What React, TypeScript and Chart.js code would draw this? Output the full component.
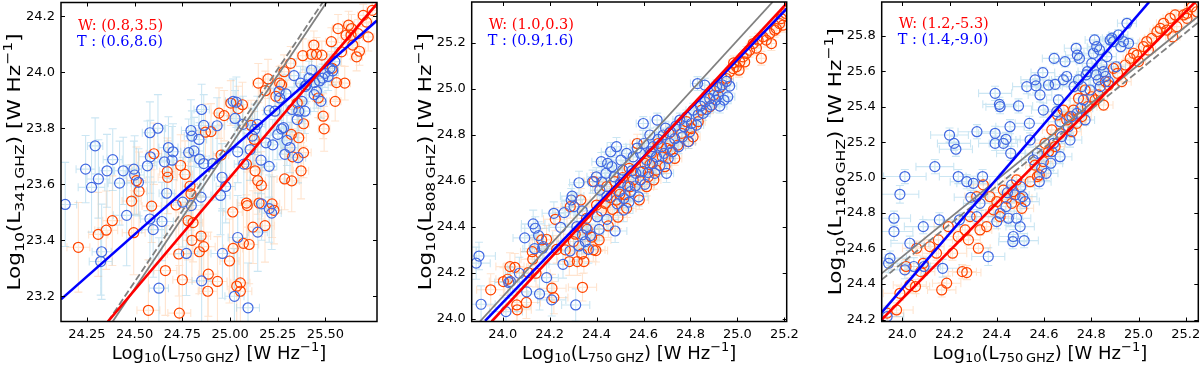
import React, { useEffect, useRef } from "react";
import { Chart, registerables } from "chart.js";
Chart.register(...registerables);

type Pt = [number, number, number, number]; // x, y, xerr, yerr

// ---------------- Panel 1 : 341 GHz vs 750 GHz ----------------
const P1_XRANGE = [24.114, 25.77];
const P1_YRANGE = [23.11, 24.249];
const P1_XTICKS = [24.25, 24.5, 24.75, 25.0, 25.25, 25.5];
const P1_YTICKS = [23.2, 23.4, 23.6, 23.8, 24.0, 24.2];
const P1_W_LABEL = "W: (0.8,3.5)";
const P1_T_LABEL = "T : (0.6,8.6)";
const P1_YFREQ = "341\u2009GHZ";
const P1_FIT_W = [[24.36, 23.11], [25.77, 24.245]];
const P1_FIT_T = [[24.114, 23.189], [25.77, 24.185]];
const P1_GRAY = [[24.385, 23.11], [25.505, 24.249]];
const P1_GRAY_DASH = [[24.36, 23.11], [25.485, 24.249]];
const P1_T: Pt[] = [
  [24.136,23.528,0.06,0.15],[24.243,23.654,0.05,0.12],[24.274,23.589,0.07,0.16],[24.293,23.737,0.04,0.10],
  [24.31,23.619,0.06,0.14],[24.327,23.359,0.05,0.17],[24.322,23.324,0.06,0.12],[24.355,23.648,0.04,0.13],
  [24.385,23.688,0.05,0.11],[24.421,23.604,0.06,0.15],[24.44,23.648,0.05,0.12],[24.458,23.489,0.07,0.18],
  [24.496,23.654,0.04,0.10],[24.5,23.633,0.05,0.14],[24.52,23.607,0.06,0.12],[24.567,23.666,0.05,0.16],
  [24.58,23.784,0.04,0.11],[24.582,23.698,0.06,0.13],[24.58,23.476,0.05,0.15],[24.597,23.438,0.06,0.17],
  [24.622,23.8,0.04,0.12],[24.627,23.229,0.05,0.18],[24.643,23.467,0.06,0.14],[24.656,23.68,0.05,0.13],
  [24.668,23.568,0.04,0.15],[24.677,23.731,0.05,0.11],[24.696,23.686,0.06,0.12],[24.701,23.716,0.04,0.10],
  [24.752,23.536,0.05,0.16],[24.771,23.353,0.06,0.15],[24.783,23.713,0.04,0.12],[24.795,23.792,0.05,0.11],
  [24.8,23.772,0.04,0.09],[24.797,23.524,0.06,0.14],[24.811,23.719,0.05,0.12],[24.837,23.76,0.04,0.10],
  [24.84,23.69,0.05,0.13],[24.848,23.554,0.06,0.15],[24.851,23.255,0.05,0.17],[24.851,23.867,0.04,0.09],
  [24.862,23.81,0.05,0.11],[24.862,23.674,0.04,0.12],[24.909,23.674,0.05,0.13],[24.932,23.809,0.04,0.10],
  [24.95,23.56,0.05,0.14],[24.958,23.625,0.04,0.12],[24.96,23.353,0.06,0.16],[24.977,23.592,0.05,0.13],
  [25.016,23.896,0.04,0.08],[25.023,23.2,0.05,0.17],[25.026,23.835,0.04,0.10],[25.033,23.893,0.03,0.09],
  [25.04,23.41,0.05,0.15],[25.04,23.716,0.04,0.11],[25.068,23.814,0.04,0.10],[25.072,23.672,0.05,0.12],
  [25.094,23.159,0.06,0.16],[25.105,23.724,0.04,0.11],[25.117,23.772,0.04,0.10],[25.13,23.796,0.03,0.09],
  [25.145,23.429,0.05,0.14],[25.143,23.814,0.04,0.10],[25.162,23.686,0.04,0.12],[25.165,23.53,0.05,0.13],
  [25.188,23.748,0.04,0.10],[25.205,23.863,0.03,0.08],[25.205,23.664,0.04,0.11],[25.218,23.497,0.05,0.13],
  [25.224,23.741,0.04,0.09],[25.235,23.861,0.03,0.08],[25.25,23.778,0.04,0.09],[25.257,23.932,0.03,0.07],
  [25.26,23.908,0.03,0.08],[25.27,23.798,0.04,0.09],[25.28,23.802,0.03,0.08],[25.287,23.707,0.04,0.10],
  [25.293,23.923,0.03,0.07],[25.298,23.757,0.04,0.09],[25.325,23.867,0.03,0.08],[25.335,23.988,0.03,0.06],
  [25.352,23.831,0.03,0.08],[25.36,23.861,0.03,0.07],[25.37,23.961,0.03,0.06],[25.377,23.896,0.03,0.07],
  [25.392,23.861,0.03,0.08],[25.393,23.949,0.03,0.06],[25.4,23.955,0.03,0.06],[25.414,23.979,0.03,0.06],
  [25.427,24.008,0.03,0.05],[25.442,23.963,0.03,0.06],[25.453,23.932,0.03,0.06],[25.469,23.969,0.03,0.05],
  [25.485,23.979,0.03,0.05],[25.497,23.996,0.03,0.05],[25.514,23.985,0.03,0.05],[25.523,24.014,0.03,0.05],
  [25.538,24.005,0.03,0.05],[25.549,24.038,0.03,0.05],[25.476,23.896,0.03,0.06],[25.441,23.92,0.03,0.06],
  [25.356,23.695,0.04,0.09],[25.314,23.731,0.04,0.09],[25.205,23.513,0.05,0.12],
];
const P1_W: Pt[] = [
  [24.205,23.375,0.06,0.16],[24.309,23.421,0.05,0.15],[24.351,23.436,0.06,0.14],[24.383,23.47,0.05,0.16],
  [24.484,23.54,0.05,0.13],[24.495,23.427,0.06,0.15],[24.509,23.613,0.05,0.12],[24.523,23.575,0.04,0.14],
  [24.572,23.15,0.06,0.18],[24.589,23.522,0.05,0.13],[24.601,23.709,0.04,0.11],[24.661,23.292,0.06,0.16],
  [24.671,23.645,0.04,0.12],[24.673,23.625,0.05,0.13],[24.717,23.526,0.05,0.14],[24.731,23.351,0.06,0.15],
  [24.734,23.14,0.06,0.17],[24.741,23.667,0.04,0.11],[24.75,23.259,0.05,0.16],[24.764,23.635,0.04,0.12],
  [24.78,23.47,0.05,0.14],[24.79,23.593,0.04,0.12],[24.795,23.566,0.05,0.13],[24.8,23.4,0.05,0.15],
  [24.806,23.463,0.05,0.14],[24.839,23.359,0.05,0.15],[24.848,23.415,0.05,0.14],[24.862,23.377,0.06,0.15],
  [24.871,23.786,0.04,0.10],[24.883,23.218,0.05,0.16],[24.886,23.279,0.05,0.15],[24.9,23.788,0.04,0.10],
  [24.934,23.253,0.05,0.16],[24.942,23.854,0.04,0.09],[24.953,23.704,0.04,0.11],[24.969,23.845,0.04,0.09],
  [24.997,23.326,0.05,0.15],[25.004,23.89,0.03,0.08],[25.014,23.501,0.05,0.13],[25.016,23.371,0.05,0.14],
  [25.035,23.236,0.05,0.16],[25.042,23.87,0.03,0.08],[25.054,23.248,0.05,0.15],[25.054,23.218,0.06,0.16],
  [25.065,23.884,0.03,0.08],[25.07,23.389,0.05,0.14],[25.086,23.533,0.05,0.13],[25.086,23.672,0.04,0.11],
  [25.09,23.524,0.05,0.12],[25.1,23.385,0.05,0.14],[25.11,23.81,0.04,0.09],[25.12,23.447,0.05,0.13],
  [25.127,23.76,0.04,0.10],[25.131,23.648,0.04,0.11],[25.145,23.613,0.04,0.12],[25.148,23.961,0.03,0.07],
  [25.152,23.533,0.05,0.12],[25.164,23.596,0.04,0.12],[25.183,23.452,0.05,0.13],[25.185,23.934,0.03,0.07],
  [25.199,23.976,0.03,0.07],[25.22,23.53,0.04,0.12],[25.23,23.507,0.04,0.12],[25.24,23.914,0.03,0.07],
  [25.26,23.961,0.03,0.06],[25.27,23.955,0.03,0.07],[25.283,24.002,0.03,0.06],[25.286,23.619,0.04,0.11],
  [25.318,24.032,0.03,0.06],[25.321,23.778,0.04,0.09],[25.323,23.612,0.04,0.11],[25.328,23.698,0.04,0.10],
  [25.352,23.89,0.03,0.07],[25.36,23.766,0.04,0.09],[25.372,23.648,0.04,0.10],[25.381,24.059,0.03,0.06],
  [25.385,23.713,0.04,0.09],[25.385,23.816,0.03,0.08],[25.427,24.064,0.03,0.05],[25.439,24.097,0.03,0.05],
  [25.453,24.064,0.03,0.06],[25.462,23.908,0.03,0.07],[25.481,24.061,0.03,0.05],[25.488,23.843,0.03,0.08],
  [25.493,23.798,0.03,0.08],[25.531,24.109,0.03,0.05],[25.535,24.014,0.03,0.06],[25.551,23.896,0.03,0.07],
  [25.558,23.963,0.03,0.06],[25.566,24.156,0.03,0.05],[25.584,24.073,0.03,0.05],[25.601,23.961,0.03,0.06],
  [25.608,24.132,0.03,0.05],[25.621,24.168,0.03,0.05],[25.636,24.156,0.03,0.05],[25.643,24.097,0.03,0.05],
  [25.663,24.055,0.03,0.05],[25.671,24.138,0.03,0.05],[25.698,24.203,0.03,0.04],[25.715,24.179,0.03,0.04],
  [25.724,24.126,0.03,0.05],[25.745,24.221,0.03,0.04],[25.678,24.075,0.03,0.05],[25.634,24.132,0.03,0.05],
];

// ---------------- Panel 2 : 808 GHz vs 750 GHz ----------------
const P2_XRANGE = [23.868, 25.21];
const P2_YRANGE = [23.987, 25.378];
const P2_XTICKS = [24.0, 24.2, 24.4, 24.6, 24.8, 25.0, 25.2];
const P2_YTICKS = [24.0, 24.2, 24.4, 24.6, 24.8, 25.0, 25.2];
const P2_W_LABEL = "W: (1.0,0.3)";
const P2_T_LABEL = "T : (0.9,1.6)";
const P2_YFREQ = "808\u2009GHZ";
const P2_FIT_W = [[23.953, 23.987], [25.21, 25.372]];
const P2_FIT_T = [[23.925, 23.99], [25.21, 25.349]];
const P2_GRAY = [[23.903, 23.987], [25.15, 25.378]];
const P2_GRAY_DASH: number[][] = [];
const P2_T: Pt[] = [
  [23.887,24.241,0.06,0.07],[23.899,24.272,0.07,0.06],[23.908,24.062,0.06,0.08],[24.014,24.03,0.07,0.06],
  [24.026,24.157,0.06,0.07],[24.033,24.161,0.05,0.06],[24.071,24.197,0.06,0.07],[24.094,24.351,0.05,0.06],
  [24.102,24.116,0.06,0.07],[24.13,24.412,0.05,0.06],[24.139,24.393,0.06,0.05],[24.136,24.304,0.05,0.06],
  [24.153,24.361,0.06,0.06],[24.157,24.107,0.05,0.07],[24.17,24.306,0.05,0.06],[24.173,24.313,0.06,0.05],
  [24.187,24.178,0.05,0.06],[24.209,24.081,0.06,0.07],[24.218,24.458,0.05,0.05],[24.247,24.397,0.05,0.06],
  [24.257,24.236,0.06,0.06],[24.262,24.461,0.05,0.05],[24.287,24.294,0.05,0.06],[24.292,24.516,0.04,0.05],
  [24.296,24.533,0.05,0.05],[24.304,24.487,0.05,0.06],[24.311,24.059,0.06,0.07],[24.316,24.4,0.05,0.05],
  [24.325,24.316,0.05,0.06],[24.325,24.591,0.04,0.05],[24.339,24.469,0.05,0.05],[24.34,24.364,0.05,0.06],
  [24.352,24.335,0.05,0.05],[24.355,24.394,0.04,0.05],[24.365,24.301,0.05,0.06],[24.374,24.361,0.05,0.05],
  [24.383,24.596,0.04,0.05],[24.399,24.617,0.04,0.04],[24.403,24.443,0.05,0.05],[24.411,24.388,0.05,0.05],
  [24.414,24.559,0.04,0.05],[24.42,24.683,0.04,0.04],[24.423,24.594,0.04,0.05],[24.44,24.632,0.04,0.04],
  [24.444,24.533,0.04,0.05],[24.444,24.432,0.05,0.05],[24.447,24.675,0.04,0.04],[24.46,24.726,0.04,0.04],
  [24.465,24.661,0.04,0.04],[24.475,24.617,0.04,0.05],[24.479,24.381,0.05,0.05],[24.485,24.748,0.04,0.04],
  [24.488,24.499,0.04,0.05],[24.496,24.552,0.04,0.04],[24.502,24.591,0.04,0.04],[24.504,24.69,0.04,0.04],
  [24.511,24.646,0.04,0.04],[24.515,24.472,0.04,0.05],[24.516,24.523,0.04,0.04],[24.528,24.719,0.03,0.04],
  [24.533,24.577,0.04,0.04],[24.538,24.507,0.04,0.05],[24.545,24.552,0.04,0.04],[24.55,24.643,0.03,0.04],
  [24.556,24.704,0.03,0.04],[24.565,24.577,0.04,0.04],[24.567,24.632,0.03,0.04],[24.573,24.742,0.03,0.04],
  [24.579,24.53,0.04,0.04],[24.587,24.603,0.03,0.04],[24.587,24.719,0.03,0.04],[24.596,24.641,0.03,0.04],
  [24.599,24.849,0.03,0.03],[24.601,24.762,0.03,0.04],[24.606,24.584,0.04,0.04],[24.613,24.69,0.03,0.04],
  [24.62,24.635,0.03,0.04],[24.627,24.799,0.03,0.03],[24.63,24.726,0.03,0.04],[24.638,24.675,0.03,0.04],
  [24.641,24.748,0.03,0.03],[24.648,24.632,0.03,0.04],[24.655,24.704,0.03,0.04],[24.658,24.864,0.03,0.03],
  [24.662,24.78,0.03,0.03],[24.67,24.667,0.03,0.04],[24.677,24.748,0.03,0.03],[24.684,24.799,0.03,0.03],
  [24.688,24.719,0.03,0.03],[24.694,24.829,0.03,0.03],[24.698,24.632,0.03,0.04],[24.705,24.697,0.03,0.03],
  [24.712,24.762,0.03,0.03],[24.715,24.813,0.03,0.03],[24.723,24.726,0.03,0.03],[24.733,24.783,0.03,0.03],
  [24.738,24.838,0.03,0.03],[24.749,24.748,0.03,0.03],[24.755,24.864,0.03,0.03],[24.766,24.791,0.03,0.03],
  [24.773,24.835,0.03,0.03],[24.783,24.878,0.03,0.03],[24.792,24.77,0.03,0.03],[24.797,24.813,0.03,0.03],
  [24.804,24.849,0.03,0.03],[24.811,24.907,0.03,0.03],[24.826,24.842,0.03,0.03],[24.833,24.887,0.03,0.03],
  [24.843,24.925,0.03,0.03],[24.854,24.893,0.03,0.03],[24.862,24.943,0.03,0.03],[24.868,24.91,0.03,0.03],
  [24.882,24.958,0.03,0.03],[24.891,24.929,0.03,0.03],[24.901,24.991,0.03,0.03],[24.908,24.951,0.03,0.03],
  [24.918,24.972,0.03,0.03],[24.925,24.925,0.03,0.03],[24.936,25.017,0.03,0.03],[24.943,24.951,0.03,0.03],
  [24.953,25.032,0.03,0.03],[24.959,24.965,0.03,0.03],[24.967,25.012,0.03,0.03],[24.83,25.023,0.03,0.03],
  [24.861,25.016,0.03,0.03],[24.911,25.009,0.03,0.03],
];
const P2_W: Pt[] = [
  [23.949,24.125,0.06,0.07],[24.003,24.161,0.06,0.06],[24.021,24.171,0.05,0.07],[24.031,24.226,0.06,0.06],
  [24.052,24.223,0.05,0.06],[24.06,24.059,0.06,0.07],[24.062,24.038,0.06,0.06],[24.101,24.07,0.06,0.07],
  [24.109,24.2,0.05,0.06],[24.126,24.291,0.05,0.06],[24.128,24.258,0.05,0.06],[24.142,24.197,0.06,0.06],
  [24.166,24.342,0.05,0.05],[24.187,24.345,0.05,0.06],[24.21,24.132,0.06,0.06],[24.218,24.091,0.06,0.07],
  [24.224,24.432,0.05,0.05],[24.23,24.301,0.05,0.06],[24.267,24.299,0.05,0.05],[24.284,24.248,0.05,0.06],
  [24.288,24.487,0.04,0.05],[24.301,24.335,0.05,0.05],[24.309,24.367,0.05,0.05],[24.318,24.248,0.05,0.06],
  [24.333,24.516,0.04,0.05],[24.337,24.281,0.05,0.05],[24.34,24.136,0.06,0.06],[24.346,24.248,0.05,0.05],
  [24.357,24.436,0.04,0.05],[24.36,24.388,0.05,0.05],[24.379,24.354,0.05,0.05],[24.386,24.299,0.05,0.05],
  [24.389,24.596,0.04,0.04],[24.397,24.296,0.05,0.05],[24.4,24.494,0.04,0.05],[24.411,24.342,0.05,0.05],
  [24.421,24.469,0.04,0.05],[24.437,24.501,0.04,0.04],[24.443,24.574,0.04,0.04],[24.45,24.403,0.04,0.05],
  [24.46,24.526,0.04,0.04],[24.468,24.475,0.04,0.05],[24.478,24.596,0.04,0.04],[24.485,24.516,0.04,0.04],
  [24.491,24.441,0.04,0.05],[24.499,24.541,0.04,0.04],[24.511,24.614,0.03,0.04],[24.521,24.539,0.04,0.04],
  [24.528,24.48,0.04,0.04],[24.539,24.654,0.03,0.04],[24.542,24.574,0.04,0.04],[24.556,24.603,0.03,0.04],
  [24.573,24.762,0.03,0.04],[24.582,24.516,0.04,0.04],[24.587,24.638,0.03,0.04],[24.606,24.675,0.03,0.04],
  [24.613,24.574,0.03,0.04],[24.62,24.617,0.03,0.04],[24.627,24.67,0.03,0.03],[24.634,24.719,0.03,0.03],
  [24.644,24.603,0.03,0.04],[24.655,24.646,0.03,0.03],[24.662,24.762,0.03,0.03],[24.68,24.704,0.03,0.03],
  [24.691,24.661,0.03,0.03],[24.698,24.741,0.03,0.03],[24.709,24.806,0.03,0.03],[24.715,24.733,0.03,0.03],
  [24.733,24.697,0.03,0.03],[24.746,24.755,0.03,0.03],[24.762,24.806,0.03,0.03],[24.783,24.857,0.03,0.03],
  [24.79,24.77,0.03,0.03],[24.804,24.827,0.03,0.03],[24.811,24.791,0.03,0.03],[24.833,24.857,0.03,0.03],
  [24.847,24.907,0.03,0.03],[24.882,24.922,0.03,0.03],[24.899,24.972,0.03,0.03],[24.925,25.006,0.03,0.03],
  [24.953,25.045,0.03,0.03],[24.967,25.074,0.02,0.03],[24.982,25.088,0.02,0.03],[24.984,25.113,0.02,0.03],
  [24.996,25.096,0.02,0.03],[25.01,25.117,0.02,0.03],[25.007,25.081,0.02,0.03],[25.024,25.139,0.02,0.03],
  [25.031,25.117,0.02,0.03],[25.038,25.154,0.02,0.03],[25.052,25.168,0.02,0.03],[25.067,25.197,0.02,0.03],
  [25.081,25.177,0.02,0.03],[25.088,25.212,0.02,0.03],[25.102,25.133,0.02,0.03],[25.109,25.226,0.02,0.03],
  [25.123,25.212,0.02,0.03],[25.138,25.241,0.02,0.03],[25.145,25.197,0.02,0.03],[25.159,25.255,0.02,0.03],
  [25.166,25.262,0.02,0.03],[25.18,25.284,0.02,0.03],[25.187,25.306,0.02,0.03],[25.194,25.277,0.02,0.03],
  [25.206,25.328,0.02,0.03],
];

// ---------------- Panel 3 : 1160 GHz vs 750 GHz ----------------
const P3_XRANGE = [23.913, 25.253];
const P3_YRANGE = [24.189, 25.99];
const P3_XTICKS = [24.0, 24.2, 24.4, 24.6, 24.8, 25.0, 25.2];
const P3_YTICKS = [24.2, 24.4, 24.6, 24.8, 25.0, 25.2, 25.4, 25.6, 25.8];
const P3_W_LABEL = "W: (1.2,-5.3)";
const P3_T_LABEL = "T : (1.4,-9.0)";
const P3_YFREQ = "1160\u2009GHZ";
const P3_FIT_W = [[23.913, 24.2], [25.24, 25.99]];
const P3_FIT_T = [[23.913, 24.24], [25.045, 25.99]];
const P3_GRAY = [[23.913, 24.46], [25.253, 25.91]];
const P3_GRAY_DASH = [[23.913, 24.425], [25.253, 25.875]];
const P3_T: Pt[] = [
  [23.936,24.217,0.07,0.05],[23.942,24.517,0.08,0.05],[23.948,24.546,0.07,0.04],[23.965,24.696,0.08,0.05],
  [23.965,24.771,0.07,0.04],[23.99,24.906,0.08,0.05],[24.011,25.006,0.09,0.04],[24.011,24.48,0.07,0.05],
  [24.032,24.63,0.08,0.04],[24.049,24.499,0.07,0.05],[24.089,24.724,0.08,0.04],[24.092,24.499,0.07,0.05],
  [24.138,25.062,0.08,0.04],[24.157,24.762,0.07,0.04],[24.171,24.489,0.07,0.05],[24.2,25.24,0.08,0.04],
  [24.219,25.193,0.07,0.04],[24.227,25.16,0.07,0.04],[24.237,25.006,0.08,0.04],[24.242,24.762,0.07,0.04],
  [24.273,24.977,0.07,0.04],[24.29,24.889,0.07,0.04],[24.301,24.968,0.07,0.04],[24.315,24.78,0.07,0.04],
  [24.316,25.259,0.08,0.04],[24.329,24.855,0.07,0.04],[24.34,25.006,0.07,0.04],[24.364,24.555,0.07,0.05],
  [24.393,25.475,0.07,0.04],[24.393,25.25,0.07,0.04],[24.393,25.193,0.07,0.04],[24.411,25.413,0.07,0.04],
  [24.414,25.4,0.06,0.04],[24.428,25.193,0.06,0.04],[24.439,25.216,0.06,0.04],[24.445,24.915,0.06,0.04],
  [24.449,24.771,0.06,0.04],[24.456,25.287,0.06,0.04],[24.459,25.137,0.06,0.04],[24.463,24.959,0.06,0.04],
  [24.468,24.639,0.06,0.04],[24.47,24.668,0.06,0.04],[24.477,24.902,0.06,0.04],[24.484,24.771,0.06,0.04],
  [24.492,25.404,0.06,0.04],[24.499,24.724,0.06,0.04],[24.51,24.893,0.06,0.04],[24.516,24.645,0.06,0.04],
  [24.52,24.865,0.06,0.04],[24.527,25.513,0.06,0.04],[24.538,25.306,0.06,0.04],[24.541,25.212,0.06,0.04],
  [24.555,25.1,0.05,0.04],[24.562,25.551,0.06,0.04],[24.566,25.517,0.06,0.04],[24.572,25.137,0.05,0.04],
  [24.58,24.977,0.05,0.04],[24.583,25.466,0.05,0.04],[24.595,25.592,0.05,0.03],[24.597,25.381,0.05,0.04],
  [24.609,25.024,0.05,0.04],[24.619,25.522,0.05,0.03],[24.629,25.081,0.05,0.04],[24.633,25.146,0.05,0.04],
  [24.64,25.193,0.05,0.04],[24.643,25.672,0.05,0.03],[24.647,25.526,0.05,0.03],[24.654,25.372,0.05,0.04],
  [24.661,25.438,0.05,0.03],[24.668,25.315,0.05,0.04],[24.675,25.231,0.05,0.04],[24.682,25.551,0.05,0.03],
  [24.689,25.654,0.05,0.03],[24.696,25.57,0.05,0.03],[24.703,25.287,0.05,0.04],[24.71,25.212,0.05,0.04],
  [24.718,25.344,0.05,0.03],[24.727,25.513,0.05,0.03],[24.736,25.729,0.05,0.03],[24.739,25.362,0.05,0.03],
  [24.741,25.691,0.05,0.03],[24.746,25.551,0.05,0.03],[24.75,25.672,0.05,0.03],[24.756,25.391,0.05,0.03],
  [24.76,25.513,0.05,0.03],[24.767,25.438,0.04,0.03],[24.774,25.325,0.04,0.03],[24.778,25.579,0.04,0.03],
  [24.784,25.598,0.04,0.03],[24.795,25.494,0.04,0.03],[24.802,25.644,0.04,0.03],[24.809,25.701,0.04,0.03],
  [24.814,25.776,0.04,0.03],[24.821,25.579,0.04,0.03],[24.823,25.738,0.04,0.03],[24.83,25.551,0.04,0.03],
  [24.835,25.72,0.04,0.03],[24.845,25.635,0.04,0.03],[24.852,25.598,0.04,0.03],[24.86,25.57,0.04,0.03],
  [24.866,25.682,0.04,0.03],[24.873,25.541,0.04,0.03],[24.88,25.776,0.04,0.03],[24.887,25.786,0.04,0.03],
  [24.894,25.767,0.04,0.03],[24.905,25.625,0.04,0.03],[24.915,25.804,0.04,0.03],[24.925,25.738,0.04,0.03],
  [24.936,25.767,0.04,0.03],[24.958,25.757,0.04,0.03],[24.951,25.87,0.04,0.03],[24.838,25.513,0.04,0.03],
  [24.668,25.118,0.05,0.04],[24.59,25.053,0.05,0.04],[24.501,24.949,0.06,0.04],[24.414,24.799,0.06,0.04],
  [24.439,24.837,0.06,0.04],[24.4,24.752,0.06,0.04],
];
const P3_W: Pt[] = [
  [23.936,24.236,0.07,0.04],[23.976,24.254,0.07,0.04],[23.99,24.348,0.07,0.04],[24.016,24.499,0.06,0.04],
  [24.032,24.395,0.07,0.04],[24.056,24.386,0.06,0.04],[24.061,24.602,0.06,0.04],[24.078,24.47,0.06,0.04],
  [24.089,24.517,0.06,0.04],[24.117,24.611,0.06,0.04],[24.145,24.574,0.06,0.04],[24.153,24.649,0.06,0.03],
  [24.167,24.367,0.06,0.04],[24.188,24.405,0.06,0.04],[24.195,24.724,0.06,0.03],[24.213,24.574,0.06,0.04],
  [24.237,24.668,0.05,0.03],[24.254,24.47,0.06,0.04],[24.266,24.705,0.05,0.03],[24.273,24.465,0.06,0.04],
  [24.28,24.649,0.05,0.03],[24.287,24.78,0.05,0.03],[24.315,24.893,0.05,0.03],[24.322,24.602,0.05,0.03],
  [24.329,24.705,0.05,0.03],[24.343,24.959,0.05,0.03],[24.357,24.724,0.05,0.03],[24.371,24.893,0.05,0.03],
  [24.386,24.818,0.05,0.03],[24.4,24.865,0.05,0.03],[24.414,24.78,0.05,0.03],[24.428,24.93,0.05,0.03],
  [24.442,24.884,0.05,0.03],[24.463,24.855,0.05,0.03],[24.47,24.921,0.05,0.03],[24.484,24.987,0.05,0.03],
  [24.499,24.884,0.05,0.03],[24.506,24.827,0.05,0.03],[24.541,24.977,0.04,0.03],[24.562,25.071,0.04,0.03],
  [24.572,25.006,0.04,0.03],[24.58,25.015,0.04,0.03],[24.597,25.09,0.04,0.03],[24.604,25.193,0.04,0.03],
  [24.619,25.146,0.04,0.03],[24.633,25.269,0.04,0.03],[24.647,25.175,0.04,0.03],[24.657,25.353,0.04,0.03],
  [24.668,25.25,0.04,0.03],[24.682,25.381,0.04,0.03],[24.696,25.325,0.04,0.03],[24.708,25.344,0.04,0.03],
  [24.718,25.259,0.04,0.03],[24.725,25.381,0.04,0.03],[24.739,25.306,0.04,0.03],[24.746,25.447,0.04,0.03],
  [24.76,25.344,0.04,0.03],[24.774,25.494,0.04,0.03],[24.784,25.4,0.04,0.03],[24.802,25.456,0.04,0.03],
  [24.816,25.438,0.04,0.03],[24.83,25.466,0.04,0.03],[24.852,25.409,0.04,0.03],[24.86,25.541,0.04,0.03],
  [24.873,25.522,0.04,0.03],[24.894,25.616,0.04,0.03],[24.911,25.588,0.04,0.03],[24.929,25.541,0.04,0.03],
  [24.944,25.635,0.03,0.03],[24.965,25.672,0.03,0.03],[24.979,25.701,0.03,0.03],[24.993,25.691,0.03,0.03],
  [25.0,25.654,0.03,0.03],[25.021,25.738,0.03,0.03],[25.035,25.767,0.03,0.03],[25.042,25.719,0.03,0.03],
  [25.056,25.785,0.03,0.03],[25.078,25.823,0.03,0.03],[25.092,25.841,0.03,0.03],[25.106,25.87,0.03,0.03],
  [25.12,25.832,0.03,0.03],[25.134,25.898,0.03,0.03],[25.145,25.794,0.03,0.03],[25.155,25.917,0.03,0.03],
  [25.162,25.851,0.03,0.03],[25.191,25.917,0.03,0.03],[25.205,25.898,0.03,0.03],[25.226,25.963,0.03,0.03],
  [25.247,25.935,0.03,0.03],[25.205,25.926,0.03,0.03],
];

const XFREQ = "750\u2009GHZ";

// ---------------- styling ----------------
const SANS = '"DejaVu Sans", sans-serif';
const SERIF = '"DejaVu Serif", serif';
const RED_PT = "#ff4500";
const BLUE_PT = "#4169e1";
const RED_LINE = "#ff0000";
const BLUE_LINE = "#0000ff";
const GRAY_LINE = "#808080";
const ERR_W = "rgba(255,185,130,0.38)";
const ERR_T = "rgba(140,200,228,0.45)";

const CANVAS_TOP = -20;
const CANVAS_H = 396;

const PANELS = [
  { left: 0, width: 400, yAxisW: 61, padRight: 23, padTop: 22.5, xAxisH: 54.5,
    xr: P1_XRANGE, yr: P1_YRANGE, xt: P1_XTICKS, yt: P1_YTICKS, xd: 2, yd: 1,
    W: P1_W, T: P1_T, fW: P1_FIT_W, fT: P1_FIT_T, g: P1_GRAY, gd: P1_GRAY_DASH,
    wl: P1_W_LABEL, tl: P1_T_LABEL, yf: P1_YFREQ, lab: 27.5 },
  { left: 400, width: 410, yAxisW: 71.7, padRight: 23.3, padTop: 22, xAxisH: 54.5,
    xr: P2_XRANGE, yr: P2_YRANGE, xt: P2_XTICKS, yt: P2_YTICKS, xd: 1, yd: 1,
    W: P2_W, T: P2_T, fW: P2_FIT_W, fT: P2_FIT_T, g: P2_GRAY, gd: P2_GRAY_DASH,
    wl: P2_W_LABEL, tl: P2_T_LABEL, yf: P2_YFREQ, lab: 27 },
  { left: 800, width: 420, yAxisW: 81.7, padRight: 21.7, padTop: 22, xAxisH: 54.5,
    xr: P3_XRANGE, yr: P3_YRANGE, xt: P3_XTICKS, yt: P3_YTICKS, xd: 1, yd: 1,
    W: P3_W, T: P3_T, fW: P3_FIT_W, fT: P3_FIT_T, g: P3_GRAY, gd: P3_GRAY_DASH,
    wl: P3_W_LABEL, tl: P3_T_LABEL, yf: P3_YFREQ, lab: 25.5 },
];

type Seg = { t: string; k: "n" | "b" | "p" };
function titleSegs(freq: string): Seg[] {
  return [
    { t: "Log", k: "n" }, { t: "10", k: "b" }, { t: "(L", k: "n" }, { t: freq, k: "b" },
    { t: ") [W Hz", k: "n" }, { t: "\u22121", k: "p" }, { t: "]", k: "n" },
  ];
}
function drawRich(ctx: CanvasRenderingContext2D, segs: Seg[], size: number) {
  const f = (k: string) => `${k === "n" ? size : Math.round(size * 0.7)}px ${SANS}`;
  let total = 0;
  const ws = segs.map((s) => { ctx.font = f(s.k); const w = ctx.measureText(s.t).width; total += w; return w; });
  let x = -total / 2;
  ctx.textBaseline = "alphabetic";
  ctx.textAlign = "left";
  segs.forEach((s, i) => {
    ctx.font = f(s.k);
    const dy = s.k === "b" ? size * 0.22 : s.k === "p" ? -size * 0.42 : 0;
    ctx.fillText(s.t, x, dy);
    x += ws[i];
  });
}

function makePlugin(p: any) {
  return {
    id: "decor",
    beforeDatasetsDraw(chart: any) {
      const { ctx, chartArea: a, scales } = chart;
      const sx = scales.x, sy = scales.y;
      ctx.save();
      ctx.beginPath();
      ctx.rect(a.left, a.top, a.right - a.left, a.bottom - a.top);
      ctx.clip();
      ctx.lineWidth = 1.1;
      const cap = 4;
      const drawErr = (arr: Pt[], col: string) => {
        ctx.strokeStyle = col;
        ctx.beginPath();
        arr.forEach(([x, y, ex, ey]) => {
          const px = sx.getPixelForValue(x), py = sy.getPixelForValue(y);
          const x0 = sx.getPixelForValue(x - ex), x1 = sx.getPixelForValue(x + ex);
          const y0 = sy.getPixelForValue(y - ey), y1 = sy.getPixelForValue(y + ey);
          ctx.moveTo(px, y0); ctx.lineTo(px, y1);
          ctx.moveTo(px - cap, y0); ctx.lineTo(px + cap, y0);
          ctx.moveTo(px - cap, y1); ctx.lineTo(px + cap, y1);
          ctx.moveTo(x0, py); ctx.lineTo(x1, py);
          ctx.moveTo(x0, py - cap); ctx.lineTo(x0, py + cap);
          ctx.moveTo(x1, py - cap); ctx.lineTo(x1, py + cap);
        });
        ctx.stroke();
      };
      drawErr(p.W, ERR_W);
      drawErr(p.T, ERR_T);
      ctx.restore();
    },
    afterDraw(chart: any) {
      const { ctx, chartArea: a, scales } = chart;
      const sx = scales.x, sy = scales.y;
      ctx.save();
      // inward ticks on all four sides
      ctx.strokeStyle = "#000";
      ctx.lineWidth = 1;
      const tl = 4;
      ctx.beginPath();
      p.xt.forEach((v: number) => {
        const x = Math.round(sx.getPixelForValue(v)) + 0.5;
        ctx.moveTo(x, a.bottom); ctx.lineTo(x, a.bottom - tl);
        ctx.moveTo(x, a.top); ctx.lineTo(x, a.top + tl);
      });
      p.yt.forEach((v: number) => {
        const y = Math.round(sy.getPixelForValue(v)) + 0.5;
        ctx.moveTo(a.left, y); ctx.lineTo(a.left + tl, y);
        ctx.moveTo(a.right, y); ctx.lineTo(a.right - tl, y);
      });
      ctx.stroke();
      // frame
      ctx.lineWidth = 1.5;
      ctx.strokeRect(a.left, a.top, a.right - a.left, a.bottom - a.top);
      // fit annotations
      ctx.font = `14.5px ${SERIF}`;
      ctx.textAlign = "left";
      ctx.textBaseline = "alphabetic";
      ctx.fillStyle = RED_LINE;
      ctx.fillText(p.wl, a.left + 17, a.top + p.lab);
      ctx.fillStyle = BLUE_LINE;
      ctx.fillText(p.tl, a.left + 16, a.top + p.lab + 16);
      // axis titles
      ctx.fillStyle = "#000";
      ctx.save();
      ctx.translate((a.left + a.right) / 2, a.bottom + 37);
      drawRich(ctx, titleSegs(XFREQ), 18);
      ctx.restore();
      ctx.save();
      ctx.translate(a.left - 41, (a.top + a.bottom) / 2);
      ctx.rotate(-Math.PI / 2);
      ctx.scale(1.2, 1);
      drawRich(ctx, titleSegs(p.yf), 18);
      ctx.restore();
      ctx.restore();
    },
  };
}

const toXY = (arr: number[][]) => arr.map(([x, y]) => ({ x, y }));

function buildConfig(p: any): any {
  const lineDs = (pts: number[][], color: string, width: number, dash: number[]) => ({
    data: toXY(pts), showLine: true, borderColor: color, borderWidth: width,
    borderDash: dash, pointRadius: 0, fill: false, order: 0, clip: 0,
  });
  const datasets: any[] = [
    lineDs(p.fW, RED_LINE, 2.6, []),
    lineDs(p.fT, BLUE_LINE, 2.6, []),
    lineDs(p.g, GRAY_LINE, 1.8, []),
  ];
  if (p.gd.length) datasets.push(lineDs(p.gd, GRAY_LINE, 1.8, [7, 3]));
  datasets.push({
    data: p.T.map(([x, y]: Pt) => ({ x, y })), pointRadius: 5, pointBorderWidth: 1.2,
    pointBorderColor: BLUE_PT, pointBackgroundColor: "rgba(0,0,0,0)", showLine: false, order: 1,
  });
  datasets.push({
    data: p.W.map(([x, y]: Pt) => ({ x, y })), pointRadius: 5, pointBorderWidth: 1.2,
    pointBorderColor: RED_PT, pointBackgroundColor: "rgba(0,0,0,0)", showLine: false, order: 2,
  });
  const tickFont = { family: SANS, size: 13 };
  return {
    type: "scatter",
    data: { datasets },
    options: {
      responsive: false,
      animation: false,
      events: [],
      layout: { padding: { left: 0, right: p.padRight, top: p.padTop, bottom: 0 } },
      plugins: { legend: { display: false }, tooltip: { enabled: false } },
      scales: {
        x: {
          type: "linear", min: p.xr[0], max: p.xr[1],
          grid: { display: false, drawTicks: false }, border: { display: false },
          ticks: { font: tickFont, color: "#000", padding: 5, includeBounds: false, autoSkip: false,
            maxRotation: 0, minRotation: 0, callback: (v: any) => Number(v).toFixed(p.xd) },
          afterBuildTicks: (s: any) => { s.ticks = p.xt.map((v: number) => ({ value: v })); },
          afterFit: (s: any) => { s.height = p.xAxisH; },
        },
        y: {
          type: "linear", min: p.yr[0], max: p.yr[1],
          grid: { display: false, drawTicks: false }, border: { display: false },
          ticks: { font: tickFont, color: "#000", padding: 6, includeBounds: false, autoSkip: false,
            callback: (v: any) => Number(v).toFixed(p.yd) },
          afterBuildTicks: (s: any) => { s.ticks = p.yt.map((v: number) => ({ value: v })); },
          afterFit: (s: any) => { s.width = p.yAxisW; },
        },
      },
    },
    plugins: [makePlugin(p)],
  };
}

function Panel({ p }: { p: any }) {
  const ref = useRef<HTMLCanvasElement>(null);
  useEffect(() => {
    const chart = new Chart(ref.current as HTMLCanvasElement, buildConfig(p));
    return () => chart.destroy();
  }, [p]);
  return (
    <canvas
      ref={ref}
      width={p.width}
      height={CANVAS_H}
      style={{ position: "absolute", left: p.left, top: CANVAS_TOP, width: p.width, height: CANVAS_H }}
    />
  );
}

export default function App() {
  return (
    <div style={{ position: "fixed", left: 0, top: 0, width: 1200, height: 366, overflow: "hidden", background: "#fff" }}>
      {PANELS.map((p, i) => <Panel key={i} p={p} />)}
    </div>
  );
}
